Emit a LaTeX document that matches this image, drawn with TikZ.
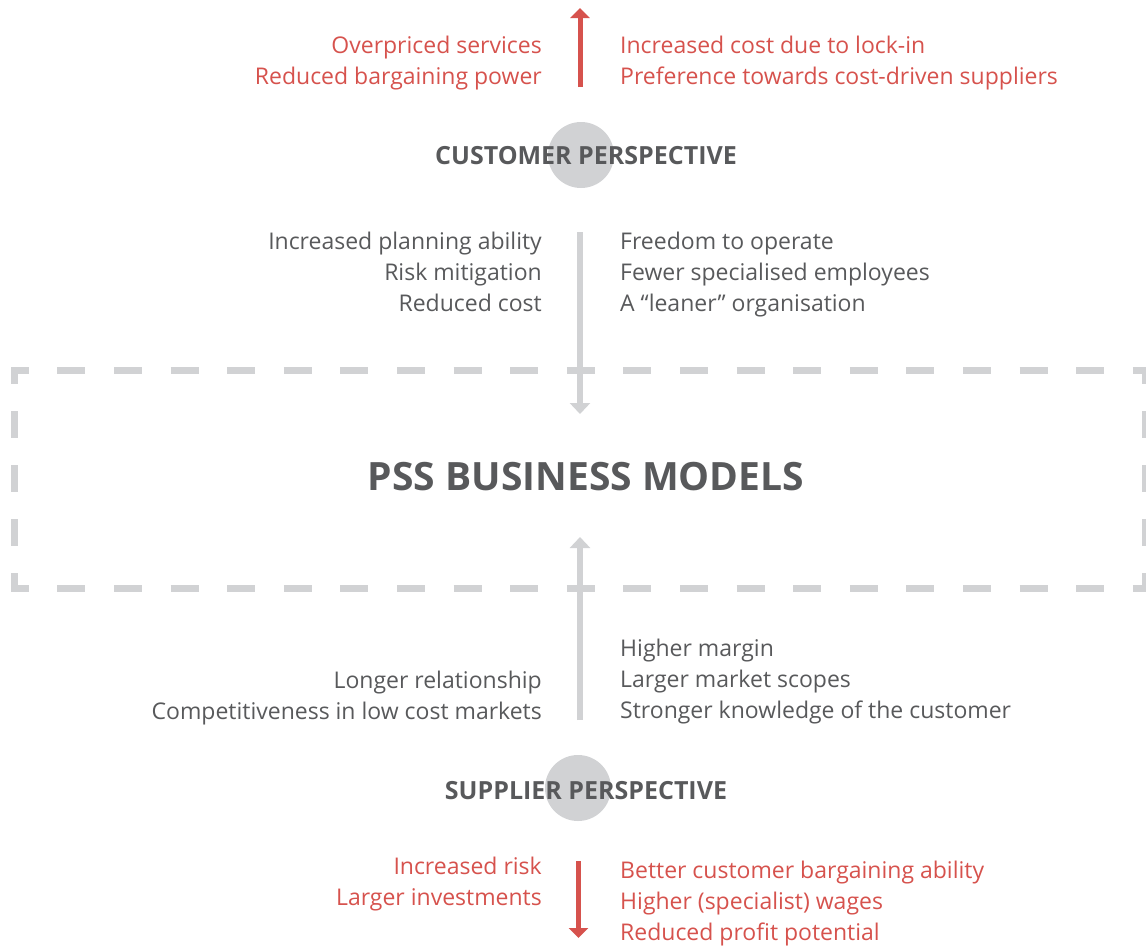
\documentclass[tikz,border=0pt]{standalone}
\usepackage{fontspec}
\setmainfont{Open Sans}
\usetikzlibrary{arrows.meta,positioning}
\definecolor{pssred}{HTML}{D6524D}
\definecolor{pssgray}{HTML}{58595B}
\definecolor{psslight}{HTML}{D1D2D4}

\begin{document}
\begin{tikzpicture}[x=1pt,y=-1pt,
  txt/.style={inner sep=0pt, font=\fontsize{23}{31}\selectfont, text=pssgray},
  lefttxt/.style={txt, align=right, anchor=north east},
  righttxt/.style={txt, align=left, anchor=north west},
  warn/.style={text=pssred},
  head/.style={inner sep=0pt, font=\fontsize{25}{28}\selectfont\bfseries, text=pssgray},
  dot/.style={circle, fill=psslight, minimum size=66pt, inner sep=0pt},
  redarrow/.style={draw=pssred, line width=5pt, -{Triangle[width=19pt,length=10pt]}},
  grayarrow/.style={draw=psslight, line width=5.5pt, -{Triangle[width=20pt,length=11pt]}},
  frameside/.style={draw=psslight, line width=7pt}]
  \useasboundingbox (0,0) rectangle (1146,946);

  % frame round the business models
  \node (frame) [minimum width=1130.5pt, minimum height=217pt, inner sep=0pt]
    at (580.25,479.5) {};
  \draw[frameside, dash pattern=on 28pt off 28.6pt, dash phase=10.5pt]
    ([xshift=-3.5pt]frame.north west) -- ([xshift=3.5pt]frame.north east);
  \draw[frameside, dash pattern=on 28pt off 28.6pt, dash phase=10.5pt]
    ([xshift=-3.5pt]frame.south west) -- ([xshift=3.5pt]frame.south east);
  \draw[frameside, dash pattern=on 27pt off 27pt, dash phase=13.5pt]
    (frame.north west) -- (frame.south west);
  \draw[frameside, dash pattern=on 27pt off 27pt, dash phase=13.5pt]
    (frame.north east) -- (frame.south east);
  \node (pss) [head, font=\fontsize{39}{44}\selectfont\bfseries] at (586,477)
    {PSS BUSINESS MODELS};

  % customer side
  \node (custdot) [dot] at (581,155) {};
  \node (cust) [head] at (586,156) {CUSTOMER PERSPECTIVE};
  \coordinate (custriskA) at (580,87);
  \coordinate (custriskB) at (580,8);
  \coordinate (custgainA) at (580,232);
  \coordinate (custgainB) at (580,414);
  \draw[redarrow] (custriskA) -- (custriskB);
  \draw[grayarrow] (custgainA) -- (custgainB);

  \node (custriskL) [lefttxt, warn] at (542,36)
    {Overpriced services\\Reduced bargaining power};
  \node (custriskR) [righttxt, warn] at (620,36)
    {Increased cost due to lock-in\\Preference towards cost-driven suppliers};
  \node (custgainL) [lefttxt] at (542,232)
    {Increased planning ability\\Risk mitigation\\Reduced cost};
  \node (custgainR) [righttxt] at (620,232)
    {Freedom to operate\\Fewer specialised employees\\A ``leaner'' organisation};

  % supplier side
  \node (suppdot) [dot] at (578,788) {};
  \node (supp) [head] at (586,791) {SUPPLIER PERSPECTIVE};
  \coordinate (suppgainA) at (580,720);
  \coordinate (suppgainB) at (580,537);
  \coordinate (supprikA) at (578.5,861);
  \coordinate (supprikB) at (578.5,938);
  \draw[grayarrow] (suppgainA) -- (suppgainB);
  \draw[redarrow] (supprikA) -- (supprikB);

  \node (suppgainL) [lefttxt] at (542,671)
    {Longer relationship\\Competitiveness in low cost markets};
  \node (suppgainR) [righttxt] at (620,639)
    {Higher margin\\Larger market scopes\\Stronger knowledge of the customer};
  \node (suppriskL) [lefttxt, warn] at (542,857)
    {Increased risk\\Larger investments};
  \node (suppriskR) [righttxt, warn] at (620,861)
    {Better customer bargaining ability\\Higher (specialist) wages\\Reduced profit potential};
\end{tikzpicture}
\end{document}
